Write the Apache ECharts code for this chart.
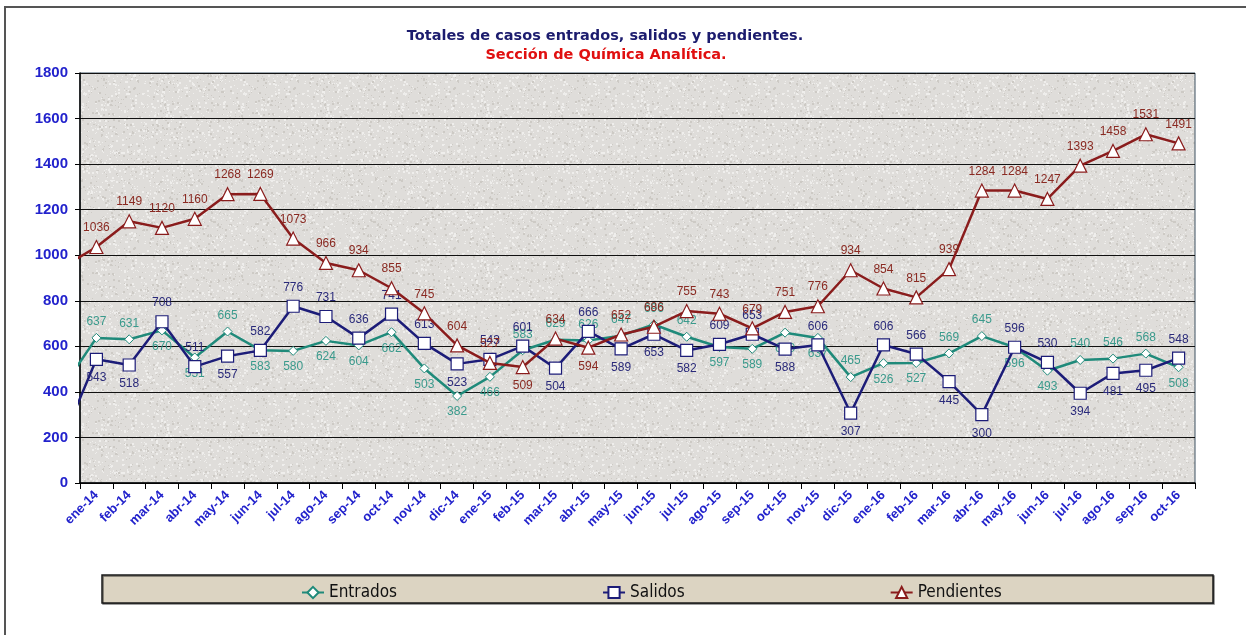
<!DOCTYPE html>
<html>
<head>
<meta charset="utf-8">
<title>Totales de casos - Química Analítica</title>
<script src="https://cdn.jsdelivr.net/npm/echarts@6/dist/echarts.min.js"></script>
<style>
  html, body { margin: 0; padding: 0; background: #fff; }
  #chart { width: 1246px; height: 635px; }
</style>
</head>
<body>
<div id="chart"></div>
<script>
// meses del eje x
const meses = [
  'ene-14', 'feb-14', 'mar-14', 'abr-14', 'may-14', 'jun-14', 'jul-14', 'ago-14', 'sep-14', 'oct-14', 'nov-14', 'dic-14',
  'ene-15', 'feb-15', 'mar-15', 'abr-15', 'may-15', 'jun-15', 'jul-15', 'ago-15', 'sep-15', 'oct-15', 'nov-15', 'dic-15',
  'ene-16', 'feb-16', 'mar-16', 'abr-16', 'may-16', 'jun-16', 'jul-16', 'ago-16', 'sep-16', 'oct-16'
];

const entrados = [637, 631, 670, 551, 665, 583, 580, 624, 604, 662, 503, 382,
  466, 583, 629, 626, 647, 696, 642, 597, 589, 660, 637, 465,
  526, 527, 569, 645, 596, 493, 540, 546, 568, 508];
const salidos = [543, 518, 708, 511, 557, 582, 776, 731, 636, 741, 613, 523,
  543, 601, 504, 666, 589, 653, 582, 609, 653, 588, 606, 307,
  606, 566, 445, 300, 596, 530, 394, 481, 495, 548];
const pendientes = [1036, 1149, 1120, 1160, 1268, 1269, 1073, 966, 934, 855, 745, 604,
  527, 509, 634, 594, 652, 686, 755, 743, 679, 751, 776, 934,
  854, 815, 939, 1284, 1284, 1247, 1393, 1458, 1531, 1491];

// dic-13: solo se ve el tramo que entra desde el eje
const prevEntrados = 425;
const prevSalidos = 200;
const prevPendientes = 950;

const yTicks = [0, 200, 400, 600, 800, 1000, 1200, 1400, 1600, 1800];

// donde va la etiqueta de cada punto (t = arriba, b = abajo)
const posEntrados = ['t','t','b','b','t','b','b','b','b','b','b','b',
  'b','t','t','t','t','t','t','b','b','b','b','t',
  'b','b','t','t','b','b','t','t','t','b'];
const posSalidos = ['b','b','t','t','b','t','t','t','t','t','t','b',
  't','t','b','t','b','b','b','t','t','b','t','b',
  't','t','b','b','t','t','b','b','b','t'];
const posPendientes = pendientes.map((v, i) => (i === 13 || i === 15) ? 'b' : 't');

function buildData(prev, vals, pos) {
  const out = [{ value: [-1, prev], symbol: 'none', label: { show: false } }];
  vals.forEach((v, i) => {
    out.push({ value: [i, v], label: { position: pos[i] === 'b' ? 'bottom' : 'top' } });
  });
  return out;
}

// textura gris del fondo del área de trazado
function makeTexture(base, light, dark) {
  const c = document.createElement('canvas');
  c.width = 160; c.height = 160;
  const ctx = c.getContext('2d');
  ctx.fillStyle = base;
  ctx.fillRect(0, 0, 160, 160);
  let s = 12345;
  const rnd = () => { s = (s * 1103515245 + 12345) % 2147483648; return s / 2147483648; };
  for (let k = 0; k < 2200; k++) {
    ctx.fillStyle = rnd() < 0.6 ? light : dark;
    const w = rnd() < 0.7 ? 1 : 2;
    ctx.fillRect(Math.floor(rnd() * 160), Math.floor(rnd() * 160), w, w);
  }
  return c;
}

const chart = echarts.init(document.getElementById('chart'));

const labelFont = { fontFamily: 'Liberation Sans, Arial, sans-serif', fontSize: 12 };
const titleFont = 'DejaVu Sans, Verdana, sans-serif';

chart.setOption({
  backgroundColor: '#fff',
  animation: false,
  title: [
    {
      text: 'Totales de casos entrados, salidos y pendientes.',
      left: 600, top: 24, textAlign: 'center',
      textStyle: { color: '#1c1c6e', fontSize: 14.5, fontWeight: 'bold', fontFamily: titleFont }
    },
    {
      text: 'Sección de Química Analítica.',
      left: 601, top: 43, textAlign: 'center',
      textStyle: { color: '#e01010', fontSize: 14.5, fontWeight: 'bold', fontFamily: titleFont }
    }
  ],
  graphic: [
    {
      type: 'rect', z: -10,
      shape: { x: 5, y: 7, width: 1260, height: 640 },
      style: { fill: 'none', stroke: '#555', lineWidth: 2 }
    },
    {
      type: 'rect', z: -5,
      shape: { x: 102, y: 575, width: 1111, height: 28 },
      style: { fill: '#dcd4c2', stroke: '#1a1a1a', lineWidth: 1.5, shadowColor: 'rgba(0,0,0,0.5)', shadowOffsetX: 1, shadowOffsetY: 1 }
    }
  ],
  legend: {
    left: 296, top: 579,
    itemGap: 205,
    itemWidth: 22, itemHeight: 14,
    textStyle: { color: '#111', fontSize: 17, fontFamily: 'Liberation Sans Narrow, DejaVu Sans Condensed, sans-serif' },
    data: ['Entrados', 'Salidos', 'Pendientes']
  },
  grid: {
    left: 80, right: 51, top: 73, bottom: 152,
    show: true,
    backgroundColor: { image: makeTexture('#dfddda', '#efeeec', '#cdcac5'), repeat: 'repeat' },
    borderColor: '#3c5060', borderWidth: 1
  },
  xAxis: [
    {
      type: 'category',
      data: meses,
      boundaryGap: true,
      axisLine: { lineStyle: { color: '#000', width: 1.5 } },
      axisTick: { show: true, length: 6, lineStyle: { color: '#000' } },
      axisLabel: {
        interval: 0, rotate: 45, margin: 10,
        color: '#2222cc', fontWeight: 'bold', fontSize: 13,
        fontFamily: 'Liberation Sans, Arial, sans-serif'
      },
      splitLine: { show: false }
    },
    {
      type: 'value', min: -0.5, max: 33.5, show: false
    }
  ],
  yAxis: {
    type: 'value',
    min: 0, max: 1800, interval: 200,
    axisLine: { show: true, onZero: false, lineStyle: { color: '#000', width: 1.5 } },
    axisTick: { show: true, length: 5, lineStyle: { color: '#000' } },
    axisLabel: {
      margin: 12,
      color: '#2222cc', fontWeight: 'bold', fontSize: 15,
      fontFamily: 'Liberation Sans, Arial, sans-serif',
      formatter: v => (yTicks.indexOf(v) >= 0 ? String(v) : '')
    },
    splitLine: { show: true, lineStyle: { color: '#111', width: 1 } }
  },
  series: [
    {
      name: 'Entrados', type: 'line', xAxisIndex: 1, clip: true,
      data: buildData(prevEntrados, entrados, posEntrados),
      symbol: 'diamond', symbolSize: 9,
      lineStyle: { color: '#1f8a7a', width: 2.5 },
      itemStyle: { color: '#fff', borderColor: '#1f8a7a', borderWidth: 1 },
      label: Object.assign({ show: true, color: '#3a9a8c', distance: 5, formatter: p => p.value[1] }, labelFont),
      z: 3
    },
    {
      name: 'Salidos', type: 'line', xAxisIndex: 1, clip: true,
      data: buildData(prevSalidos, salidos, posSalidos),
      symbol: 'rect', symbolSize: 12,
      lineStyle: { color: '#1c1c78', width: 2.5 },
      itemStyle: { color: '#fff', borderColor: '#1c1c78', borderWidth: 1.2 },
      label: Object.assign({ show: true, color: '#2a2a7a', distance: 6, formatter: p => p.value[1] }, labelFont),
      z: 4
    },
    {
      name: 'Pendientes', type: 'line', xAxisIndex: 1, clip: true,
      data: buildData(prevPendientes, pendientes, posPendientes),
      symbol: 'triangle', symbolSize: 13,
      lineStyle: { color: '#8a1c1c', width: 2.5 },
      itemStyle: { color: '#fff', borderColor: '#8a1c1c', borderWidth: 1.2 },
      label: Object.assign({ show: true, color: '#8a2a22', distance: 6, formatter: p => p.value[1] }, labelFont),
      z: 5
    }
  ]
});
</script>
</body>
</html>
